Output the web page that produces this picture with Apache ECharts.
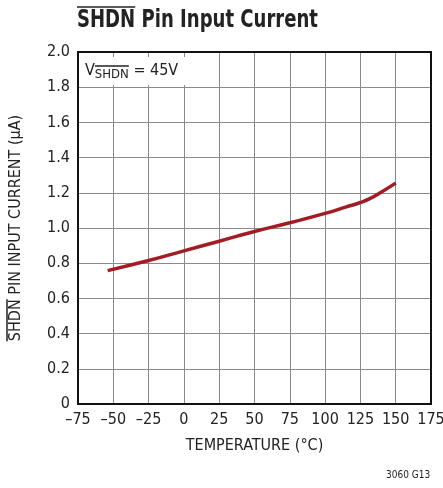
<!DOCTYPE html>
<html>
<head>
<meta charset="utf-8">
<script src="https://cdn.jsdelivr.net/npm/echarts@6/dist/echarts.min.js"></script>
<style>
html, body { margin: 0; padding: 0; background: #fff; }
#main { width: 443px; height: 488px; }
</style>
</head>
<body>
<div id="main"></div>
<script>
// temperature (°C) and SHDN pin current (µA)
var temps = [-54, -25, 0, 25, 50, 75, 100, 115, 125, 132, 140, 150];
var current = [0.758, 0.815, 0.87, 0.925, 0.98, 1.03, 1.083, 1.12, 1.145, 1.168, 1.205, 1.255];
var xTicks = [-75, -50, -25, 0, 25, 50, 75, 100, 125, 150, 175];
var yTicks = [0, 0.2, 0.4, 0.6, 0.8, 1.0, 1.2, 1.4, 1.6, 1.8, 2.0];

var font = '"Liberation Sans Narrow", "DejaVu Sans Condensed", sans-serif';
var titleText = 'SHDN Pin Input Current';
var yName = 'SHDN PIN INPUT CURRENT (µA)';

// text widths, used to squeeze the title and place the overlines over "SHDN"
var ctx = document.createElement('canvas').getContext('2d');
ctx.font = 'bold 25px ' + font;
var titleScale = 241 / ctx.measureText(titleText).width;
var wTitle = ctx.measureText('SHDN').width * titleScale;
ctx.font = '13px ' + font;
var wSub = ctx.measureText('SHDN').width;
ctx.font = '16px ' + font;
var wV = ctx.measureText('V').width;
var wAxis = ctx.measureText('SHDN').width;
var wYName = ctx.measureText(yName).width;

function overline(x1, y1, x2, y2) {
	return { type : 'line', z : 10, shape : { x1 : x1, y1 : y1, x2 : x2, y2 : y2 }, style : { stroke : '#222', lineWidth : 1.5 } };
}

var chart = echarts.init(document.getElementById('main'));
chart.setOption({
	animation : false,
	backgroundColor : '#fff',
	grid : {
		left : 78,
		right : 12,
		top : 52,
		bottom : 84,
		outerBoundsMode : 'none',
		containLabel : false,
		show : true,
		borderColor : '#111',
		borderWidth : 2,
		z : 5
	},
	xAxis : {
		type : 'value',
		min : xTicks[0],
		max : xTicks[xTicks.length - 1],
		interval : 25,
		axisLine : { show : false },
		axisTick : { show : false },
		splitLine : { lineStyle : { color : '#8a8a8a', width : 1 } },
		axisLabel : {
			color : '#222',
			fontFamily : font,
			fontSize : 16,
			margin : 8,
			formatter : function(v) { return String(v).replace('-', '\u2013'); }
		},
		name : 'TEMPERATURE (°C)',
		nameLocation : 'middle',
		nameGap : 34,
		nameTextStyle : { color : '#222', fontFamily : font, fontSize : 16 }
	},
	yAxis : {
		type : 'value',
		min : yTicks[0],
		max : yTicks[yTicks.length - 1],
		interval : 0.2,
		axisLine : { show : false },
		axisTick : { show : false },
		splitLine : { lineStyle : { color : '#8a8a8a', width : 1 } },
		axisLabel : {
			color : '#222',
			fontFamily : font,
			fontSize : 16,
			margin : 8,
			formatter : function(v) { return v === 0 ? '0' : v.toFixed(1); }
		},
		name : yName,
		nameLocation : 'middle',
		nameGap : 54,
		nameTextStyle : { color : '#222', fontFamily : font, fontSize : 16 }
	},
	series : [ {
		type : 'line',
		smooth : true,
		symbol : 'none',
		lineStyle : { color : '#a31c25', width : 3.5 },
		data : temps.map(function(t, i) { return [t, current[i]]; }),
		z : 3
	} ],
	graphic : [
		{ type : 'text', x : 77, y : 8, scaleX : titleScale, style : { text : titleText, fontFamily : font, fontSize : 25, fontWeight : 'bold', fill : '#222' } },
		{ type : 'rect', shape : { x : 80, y : 57, width : 118, height : 28 }, style : { fill : '#fff' }, z : 4 },
		{ type : 'text', x : 85, y : 60, z : 6, style : {
			text : '{v|V}{s|SHDN}{v| = 45V}', fontFamily : font,
			rich : {
				v : { fontSize : 16, fontFamily : font, fill : '#222' },
				s : { fontSize : 13, fontFamily : font, fill : '#222', padding : [8, 0, 0, 0] }
			}
		} },
		{ type : 'text', left : 386, top : 470, style : { text : '3060 G13', fontFamily : font, fontSize : 10, fill : '#222' } },
		overline(77, 7, 77 + wTitle, 7),
		overline(85 + wV, 66, 85 + wV + wSub, 66),
		overline(7, 228 + wYName / 2, 7, 228 + wYName / 2 - wAxis)
	]
});
</script>
</body>
</html>
